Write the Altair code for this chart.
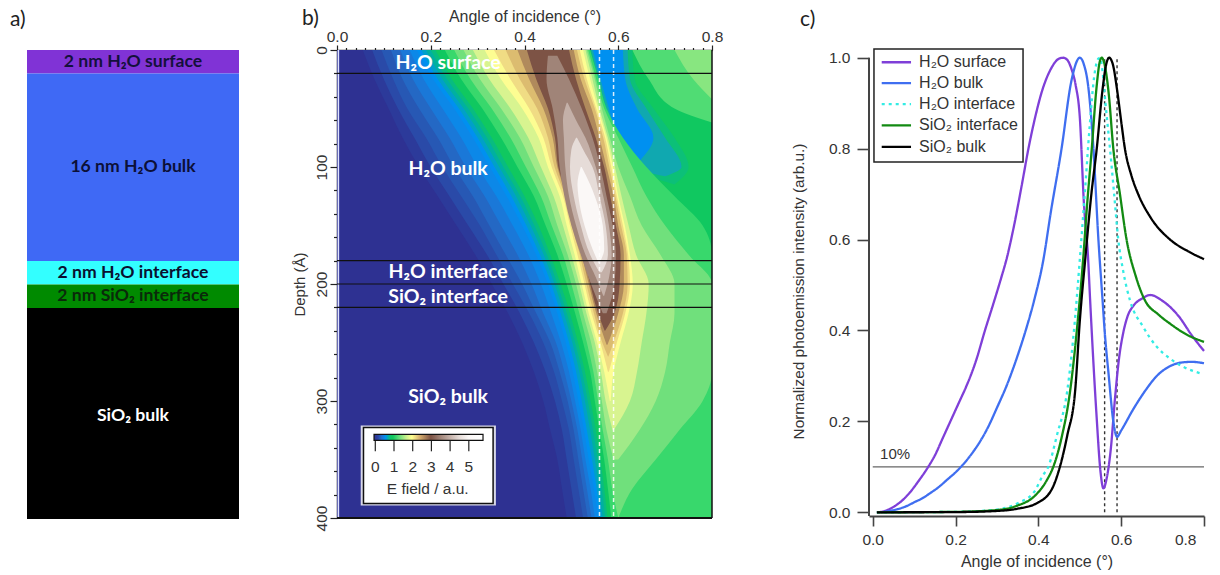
import altair as alt
import pandas as pd

# ---------- panel a
layer_top = [0, 20, 180, 200, 220]
layer_bot = [20, 180, 200, 220, 400]
layer_col = ["#8033d6", "#3f69f5", "#33ffff", "#008a00", "#000000"]
layer_txt = ["2 nm H₂O surface", "16 nm H₂O bulk", "2 nm H₂O interface", "2 nm SiO₂ interface", "SiO₂ bulk"]
layer_mid = [10, 100, 190, 210, 312]
layer_tc = ["#14103c", "#0c1038", "#0a1030", "#0a2a0a", "#ffffff"]

# ---------- panel b : iso-level contours (angle at each depth)
d = [0, 25, 50, 75, 100, 125, 150, 175, 200, 225, 250, 275, 300, 325, 350, 375, 400]
f1 = [.055, .08, .11, .14, .175, .215, .255, .295, .33, .365, .395, .42, .44, .455, .47, .48, .49]
f2 = [.075, .10, .13, .165, .20, .24, .28, .32, .355, .39, .42, .445, .465, .48, .49, .50, .51]
f3 = [.095, .12, .15, .19, .225, .265, .305, .34, .375, .41, .44, .463, .48, .495, .505, .515, .525]
f4 = [.115, .14, .175, .215, .25, .29, .325, .36, .395, .425, .455, .475, .492, .505, .515, .525, .535]
f5 = [.135, .162, .20, .24, .275, .315, .35, .385, .415, .44, .467, .485, .50, .513, .523, .533, .543]
f6 = [.155, .185, .225, .265, .30, .34, .375, .408, .435, .457, .478, .495, .508, .52, .53, .541, .55]
f7 = [.17, .205, .25, .29, .326, .362, .395, .425, .45, .47, .488, .503, .515, .527, .537, .548, .557]
f8 = [.18, .215, .26, .30, .336, .372, .404, .433, .457, .477, .495, .51, .522, .533, .544, .554, .562]
f9 = [.19, .225, .27, .31, .346, .382, .413, .441, .464, .484, .502, .517, .529, .54, .55, .559, .567]
f10 = [.20, .235, .28, .32, .355, .391, .421, .448, .47, .49, .508, .523, .535, .546, .556, .565, .572]
f11 = [.21, .245, .29, .33, .365, .40, .43, .455, .477, .497, .514, .529, .541, .552, .562, .57, .577]

top1_d = [0, 25, 50, 62]
top1_x = [.63, .665, .72, .8]
top2_d = [0, 25, 42]
top2_x = [.72, .76, .8]

dip0_d = [0, 25, 50, 75, 100, 115]
dip0_a = [.54, .556, .57, .59, .625, .72]
dip0_b = [.63, .635, .675, .72, .75, .72]
dip1_d = [0, 25, 50, 75, 100, 108]
dip1_a = [.542, .558, .575, .595, .63, .70]
dip1_b = [.62, .625, .66, .70, .735, .70]
dip2_d = [0, 25, 50, 75, 95]
dip2_a = [.546, .562, .58, .60, .64]
dip2_b = [.61, .615, .64, .675, .645]

h12_a = [.23, .265, .31, .35, .385, .42, .445, .47, .49, .508, .525, .54, .55, .56, .57, .578, .585]
h12_b = [.54, .558, .575, .61, .66, .72, .78, .8, .8, .8, .8, .8, .8, .8, .8, .8, .8]
h14_a = [.25, .285, .33, .37, .403, .435, .458, .482, .50, .517, .533, .547, .557, .567, .578, .587, .60]
h14_b = [.536, .553, .57, .60, .63, .66, .70, .75, .8, .8, .8, .8, .78, .73, .68, .63, .60]
h16_d = d[:15]
h16_a = [.27, .305, .35, .39, .42, .45, .47, .492, .51, .525, .542, .555, .565, .575, .59]
h16_b = [.533, .55, .565, .582, .60, .625, .65, .69, .72, .72, .71, .70, .68, .645, .60]
h18_d = d[:14]
h18_a = [.29, .325, .37, .408, .435, .462, .482, .50, .517, .532, .55, .563, .573, .588]
h18_b = [.53, .545, .56, .578, .593, .607, .622, .638, .665, .66, .65, .64, .625, .59]
h20_d = d[:13]
h20_a = [.315, .35, .395, .43, .45, .475, .49, .507, .522, .537, .555, .57, .582]
h20_b = [.525, .54, .557, .575, .589, .60, .614, .625, .631, .622, .605, .59, .584]
h22_d = d[:12]
h22_a = [.335, .37, .41, .44, .458, .482, .497, .513, .528, .543, .562, .578]
h22_b = [.518, .533, .553, .572, .585, .597, .61, .621, .625, .615, .597, .58]
h24_d = [0, 25, 50, 75, 100, 125, 150, 175, 200, 225, 250, 262]
h24_a = [.36, .39, .427, .45, .464, .487, .501, .518, .532, .548, .566, .578]
h24_b = [.512, .528, .55, .568, .581, .594, .606, .618, .62, .61, .59, .579]
h27_d = [0, 25, 50, 75, 100, 125, 150, 175, 200, 225, 252]
h27_a = [.385, .41, .44, .46, .47, .49, .505, .522, .537, .553, .575]
h27_b = [.505, .52, .543, .56, .575, .59, .60, .612, .612, .60, .577]
h30_d = [0, 25, 50, 75, 100, 125, 150, 175, 200, 225, 240]
h30_a = [.405, .425, .45, .465, .472, .492, .508, .527, .54, .557, .571]
h30_b = [.495, .51, .53, .552, .57, .583, .595, .605, .603, .592, .572]
h35_d = [5, 25, 50, 75, 100, 125, 150, 175, 200, 225]
h35_a = [.45, .447, .46, .47, .475, .485, .50, .52, .542, .567]
h35_b = [.47, .495, .522, .545, .562, .575, .588, .595, .592, .575]
h40_d = [45, 60, 75, 100, 125, 150, 175, 195, 210]
h40_a = [.49, .482, .484, .487, .495, .51, .53, .553, .568]
h40_b = [.492, .51, .53, .552, .568, .58, .586, .58, .57]
h45_d = [75, 85, 100, 125, 150, 175, 190]
h45_a = [.51, .50, .497, .505, .52, .54, .56]
h45_b = [.512, .525, .545, .56, .573, .578, .565]
h50_d = [100, 115, 125, 150, 170, 182]
h50_a = [.52, .513, .515, .528, .545, .558]
h50_b = [.522, .54, .55, .567, .57, .56]

hlines = [20, 180, 200, 220]
angles_marked = [0.56, 0.59]
map_txt = ["H₂O surface", "H₂O bulk", "H₂O interface", "SiO₂ interface", "SiO₂ bulk"]
map_txt_x = [.237, .237, .237, .237, .237]
map_txt_y = [10.7, 102, 190, 211.5, 297]

ramp_e = [0, .2, .4, .6, .75, .9, 1.0, 1.3, 1.7, 2.0, 2.4, 3.0, 3.5, 4.0, 4.5, 5.0, 5.76]
ramp_c = ["#2e3192", "#2c42a2", "#2070d0", "#0090f0", "#00b0a8", "#10c860", "#10c860", "#60dc78",
          "#c8f08c", "#ffff90", "#d8b070", "#7d5345", "#a08478", "#c4b0a8", "#e6dcd8", "#fbf8f7", "#ffffff"]
cb_ticks = [0, 1, 2, 3, 4, 5]

# ---------- panel c
pur_x = [.01, .03, .05, .07, .09, .11, .134, .15, .17, .19, .21, .225, .25, .271, .29, .31, .324, .34, .36, .376, .39, .41, .43, .45, .46, .47, .48, .49, .50, .51, .52, .525, .54, .55, .557, .565, .575, .585, .595, .605, .615, .63, .65, .67, .70, .74, .77, .80]
pur_y = [0, .003, .012, .025, .044, .068, .10, .125, .165, .205, .245, .275, .335, .40, .455, .515, .56, .625, .72, .80, .86, .93, .975, .998, 1.0, .995, .975, .94, .87, .68, .56, .467, .22, .09, .053, .075, .14, .25, .34, .395, .43, .455, .47, .478, .465, .43, .39, .355]
blu_x = [.02, .04, .06, .08, .10, .12, .14, .16, .18, .20, .215, .24, .26, .28, .30, .324, .35, .372, .39, .412, .43, .456, .48, .50, .51, .52, .533, .545, .555, .56, .57, .581, .59, .60, .63, .66, .686, .715, .742, .77, .80]
blu_y = [0, .003, .007, .013, .022, .031, .043, .056, .072, .088, .102, .13, .157, .19, .23, .28, .345, .408, .467, .555, .66, .80, .95, 1.0, .985, .94, .80, .60, .467, .40, .30, .20, .166, .18, .228, .27, .30, .32, .329, .331, .328]
cya_x = [.01, .20, .30, .35, .39, .41, .424, .445, .47, .488, .50, .512, .524, .535, .545, .549, .555, .562, .573, .583, .593, .605, .621, .653, .686, .718, .75, .794]
cya_y = [0, .001, .006, .02, .045, .08, .10, .17, .269, .42, .555, .70, .85, .96, .998, 1.0, .97, .90, .80, .70, .60, .53, .467, .408, .364, .338, .32, .305]
gre_x = [.01, .20, .30, .35, .39, .42, .436, .455, .477, .495, .508, .518, .529, .54, .548, .553, .56, .57, .581, .597, .613, .635, .657, .69, .718, .76, .80]
gre_y = [0, .001, .005, .015, .035, .07, .10, .16, .269, .42, .555, .68, .80, .93, .99, 1.0, .985, .92, .80, .70, .60, .52, .467, .435, .415, .39, .375]
bla_x = [.01, .20, .30, .35, .396, .432, .452, .47, .489, .50, .513, .528, .541, .555, .565, .571, .58, .59, .60, .609, .625, .641, .67, .718, .76, .80]
bla_y = [0, .0005, .003, .008, .02, .05, .10, .17, .269, .42, .555, .70, .80, .93, .99, 1.0, .985, .93, .86, .80, .74, .70, .65, .60, .575, .557]
names = ["H₂O surface", "H₂O bulk", "H₂O interface", "SiO₂ interface", "SiO₂ bulk"]
line_col = ["#7f3fd8", "#3f6ef0", "#33ece4", "#128a12", "#000000"]
line_dash = [[1, 0], [1, 0], [3, 4], [1, 0], [1, 0]]
leg_y = [.99, .944, .898, .851, .804]

SANS = "Liberation Sans"
LATO = "Lato"
INK = "#333333"


def lab(t, x, y):
    return alt.Chart(pd.DataFrame({"t": [t]})).mark_text(
        font=LATO, fontSize=21, color="#222222", align="left", baseline="middle"
    ).encode(x=alt.value(x), y=alt.value(y), text="t:N")


# ---------- a
dfa = pd.DataFrame({"t": layer_top, "b": layer_bot, "c": layer_col, "s": layer_txt, "m": layer_mid, "tc": layer_tc})
Ya = alt.Scale(domain=[0, 400], reverse=True)
pa = alt.layer(
    alt.Chart(dfa).mark_rect().encode(
        y=alt.Y("t:Q", scale=Ya, axis=None), y2="b:Q", x=alt.value(0), x2=alt.value(212),
        color=alt.Color("c:N", scale=None)),
    alt.Chart(dfa).mark_text(font=LATO, fontWeight="bold", fontSize=17.6).encode(
        x=alt.value(106), y=alt.Y("m:Q", scale=Ya, axis=None),
        text="s:N", color=alt.Color("tc:N", scale=None)),
    lab("a)", -17, -30),
).properties(width=212, height=469)

# ---------- b
is_major_x = "abs(datum.value*5-round(datum.value*5))<0.001"
is_major_y = "datum.value%100==0"
xb_axis = alt.Axis(orient="top", title="Angle of incidence (°)", values=[round(i * .02, 2) for i in range(41)],
                   labelExpr=f"{is_major_x}?format(datum.value,'.1f'):''", labelFont=SANS, labelFontSize=15.5,
                   labelColor=INK, titleFont=SANS, titleFontSize=16, titleColor=INK, titleFontWeight="normal",
                   tickColor="#222", domainColor="#222", domainWidth=1.5, tickWidth=1.2, labelPadding=1, titlePadding=5,
                   labelOverlap=False, labelFlush=False, grid=False,
                   tickSize={"condition": {"test": is_major_x, "value": 5}, "value": 2.5})
yb_axis = alt.Axis(orient="left", title="Depth (Å)", values=list(range(0, 401, 20)),
                   labelExpr=f"{is_major_y}?datum.value:''", labelFont=SANS, labelFontSize=15.5, labelAngle=270,
                   labelAlign="center", labelBaseline="bottom",
                   labelColor=INK, titleFont=SANS, titleFontSize=15, titleColor=INK, titleFontWeight="normal",
                   tickColor="#222", domainColor="#222", domainWidth=1.5, tickWidth=1.2, labelPadding=1, titlePadding=7,
                   labelOverlap=False, labelFlush=False, grid=False,
                   tickSize={"condition": {"test": is_major_y, "value": 7}, "value": 3.5})
SX = alt.Scale(domain=[0, .8], nice=False)
SY = alt.Scale(domain=[0, 400], reverse=True, nice=False)
Xb = alt.X("a:Q", scale=SX, axis=xb_axis)
Yb = alt.Y("d:Q", scale=SY, axis=yb_axis)
Yl = alt.Y("l:Q", scale=SY, axis=yb_axis)


def band(col, dd, a, b=None):
    bb = b if b is not None else [.8] * len(dd)
    df = pd.DataFrame({"d": dd, "a": a, "b": bb})
    return alt.Chart(df).mark_area(color=col, orient="horizontal", interpolate="monotone").encode(
        x=Xb, x2="b:Q", y=Yb)


layers_b = [
    band("#2e3192", [0, 400], [0, 0]),
    band("#2c3a9a", d, f1),
    band("#2a4aa8", d, f2),
    band("#2758b4", d, f3),
    band("#2468c4", d, f4),
    band("#1a78d8", d, f5),
    band("#0c88e8", d, f6),
    band("#0090f0", d, f7),
    band("#00a0c8", d, f8),
    band("#00b0a0", d, f9),
    band("#08bc80", d, f10),
    band("#10c860", d, f11),
    band("#50dc74", top1_d, top1_x),
    band("#88e680", top2_d, top2_x),
    band("#0cc078", dip0_d, dip0_a, dip0_b),
    band("#10a8b0", dip1_d, dip1_a, dip1_b),
    band("#0090f0", dip2_d, dip2_a, dip2_b),
    band("#38d86c", d, h12_a, h12_b),
    band("#70e07c", d, h14_a, h14_b),
    band("#a0ea88", h16_d, h16_a, h16_b),
    band("#d8f490", h18_d, h18_a, h18_b),
    band("#fdfd92", h20_d, h20_a, h20_b),
    band("#f0dc84", h22_d, h22_a, h22_b),
    band("#dcbc70", h24_d, h24_a, h24_b),
    band("#b08a5c", h27_d, h27_a, h27_b),
    band("#7d5345", h30_d, h30_a, h30_b),
    band("#a08478", h35_d, h35_a, h35_b),
    band("#c4b0a8", h40_d, h40_a, h40_b),
    band("#e6dcd8", h45_d, h45_a, h45_b),
    band("#fbf8f7", h50_d, h50_a, h50_b),
]
edge = alt.Chart(pd.DataFrame({"a": [.003], "d": [0], "e": [400]})).mark_rule(color="#dfe3ff", strokeWidth=1.5).encode(
    x=Xb, y=Yb, y2="e:Q")
dash = alt.Chart(pd.DataFrame({"a": angles_marked, "d": [0, 0], "e": [400, 400]})).mark_rule(
    color="#ffffff", strokeDash=[4, 3], strokeWidth=1.5, opacity=.85).encode(x=Xb, y=Yb, y2="e:Q")
hl = alt.Chart(pd.DataFrame({"d": hlines, "a": [0] * 4, "b": [.8] * 4})).mark_rule(color="#101010", strokeWidth=1.2).encode(
    y=Yb, x=Xb, x2="b:Q")
fb = alt.Chart(pd.DataFrame({"d": [400], "a": [0], "b": [.8]})).mark_rule(color="#111", strokeWidth=2).encode(
    y=Yb, x=Xb, x2="b:Q")
fr = alt.Chart(pd.DataFrame({"a": [.8], "d": [0], "e": [400]})).mark_rule(color="#111", strokeWidth=1.5).encode(
    x=Xb, y=Yb, y2="e:Q")
mt = alt.Chart(pd.DataFrame({"a": map_txt_x, "d": map_txt_y, "s": map_txt})).mark_text(
    font=LATO, fontWeight="bold", fontSize=19.5, color="#ffffff").encode(x=Xb, y=Yb, text="s:N")


def box(a1, a2, d1, d2, **kw):
    return alt.Chart(pd.DataFrame({"a": [a1], "b": [a2], "d": [d1], "e": [d2]})).mark_rect(**kw).encode(
        x=Xb, x2="b:Q", y=Yb, y2="e:Q")


CB0, CBU = .0817, .0399
grad = alt.Gradient(gradient="linear", x1=0, x2=1, y1=0, y2=0,
                    stops=[alt.GradientStop(color=c, offset=e / ramp_e[-1]) for e, c in zip(ramp_e, ramp_c)])
cb_df = pd.DataFrame({"a": [CB0 + CBU * e for e in cb_ticks], "d": [334] * 6, "e": [343] * 6,
                      "t": [str(e) for e in cb_ticks], "l": [356.6] * 6})
cb_parts = [
    box(.0506, .339, 321, 389.3, color="#d8d8e8"),
    box(.0565, .333, 322.7, 387.6, fill="#ffffff", stroke="#111111", strokeWidth=1.5),
    box(.079, .3115, 328.6, 333.7, color=grad, stroke="#111111", strokeWidth=1.2),
    alt.Chart(cb_df).mark_rule(color="#222", strokeWidth=1.2).encode(x=Xb, y=Yb, y2="e:Q"),
    alt.Chart(cb_df).mark_text(font=SANS, fontSize=15.5, color=INK).encode(x=Xb, y=Yl, text="t:N"),
    alt.Chart(pd.DataFrame({"a": [.1935], "d": [374.8], "s": ["E field / a.u."]})).mark_text(
        font=SANS, fontSize=15.5, color=INK).encode(x=Xb, y=Yb, text="s:N"),
]
pb = alt.layer(*layers_b, edge, dash, hl, fb, fr, mt, *cb_parts, lab("b)", -35, -31)).properties(width=375, height=468)

# ---------- c
GAP = 59
rows = []
for n, xs, ys in zip(names, [pur_x, blu_x, cya_x, gre_x, bla_x], [pur_y, blu_y, cya_y, gre_y, bla_y]):
    rows += [{"n": n, "x": x, "y": y, "i": i} for i, (x, y) in enumerate(zip(xs, ys))]
dfc = pd.DataFrame(rows)
SXC = alt.Scale(domain=[-.009, .8], range=[GAP, GAP + 335], nice=False)
SYC = alt.Scale(domain=[-.0081, 1.017], nice=False)
xc_axis = alt.Axis(title="Angle of incidence (°)", values=[0, .2, .4, .6, .8], format=".1f", labelFont=SANS, labelFontSize=15.5,
                   labelColor=INK, titleFont=SANS, titleFontSize=16, titleColor=INK, titleFontWeight="normal",
                   tickColor="#444", domainColor="#444", domainWidth=2, tickWidth=1.6, tickSize=10, labelPadding=6,
                   titlePadding=6, grid=False, labelFlush=True, labelFlushOffset=-8)
yc_axis = alt.Axis(title="Normalized photoemission intensity (arb.u.)", values=[0, .2, .4, .6, .8, 1.0], format=".1f",
                   labelFont=SANS, labelFontSize=15.5, labelColor=INK, titleFont=SANS, titleFontSize=15.4, titleColor=INK,
                   titleFontWeight="normal", tickColor="#444", domain=False, tickWidth=1.6, tickSize=12, offset=-GAP,
                   labelPadding=7, titlePadding=22, titleY=241, grid=False)
Xc = alt.X("x:Q", scale=SXC, axis=xc_axis)
Yc = alt.Y("y:Q", scale=SYC, axis=yc_axis)
yline = alt.Chart(pd.DataFrame({"x": [-.009], "y": [-.0081], "e": [1.0]})).mark_rule(color="#444", strokeWidth=2).encode(
    x=Xc, y=Yc, y2="e:Q")
vdash = alt.Chart(pd.DataFrame({"x": angles_marked, "y": [0, 0], "e": [1.0, 1.0]})).mark_rule(
    color="#333", strokeDash=[3, 3], strokeWidth=1.4).encode(x=Xc, y=Yc, y2="e:Q")
ten = alt.Chart(pd.DataFrame({"x": [0], "b": [.8], "y": [.1]})).mark_rule(color="#666", strokeWidth=1.4).encode(
    x=Xc, x2="b:Q", y=Yc)
ten_t = alt.Chart(pd.DataFrame({"x": [.054], "y": [.128], "s": ["10%"]})).mark_text(
    font=SANS, fontSize=15, color=INK).encode(x=Xc, y=Yc, text="s:N")
Col = alt.Color("n:N", sort=names, scale=alt.Scale(domain=names, range=line_col), legend=None)
Dsh = alt.StrokeDash("n:N", sort=names, scale=alt.Scale(domain=names, range=line_dash), legend=None)
lines = alt.Chart(dfc).mark_line(strokeWidth=2.3, interpolate="monotone").encode(
    x=Xc, y=Yc, order="i:Q", color=Col, strokeDash=Dsh)
leg_box = alt.Chart(pd.DataFrame({"x": [.003], "b": [.363], "y": [1.019], "e": [.7706]})).mark_rect(
    fill="#ffffff", stroke="#222222", strokeWidth=1.5).encode(x=Xc, x2="b:Q", y=Yc, y2="e:Q")
leg_df = pd.DataFrame({"n": names, "y": leg_y, "x": [.0217] * 5, "b": [.0925] * 5, "t": [.112] * 5})
leg_l = alt.Chart(leg_df).mark_rule(strokeWidth=2.3).encode(x=Xc, x2="b:Q", y=Yc, color=Col, strokeDash=Dsh)
leg_t = alt.Chart(leg_df).mark_text(font=SANS, fontSize=16, color=INK, align="left").encode(
    x=alt.X("t:Q", scale=SXC, axis=xc_axis), y=Yc, text="n:N")
pc = alt.layer(yline, vdash, ten, ten_t, lines, leg_box, leg_l, leg_t, lab("c)", GAP - 69, -30)).properties(
    width=GAP + 335, height=466)

chart = alt.hconcat(pa, pb, pc, spacing=98, bounds="flush").properties(
    padding={"left": 2, "top": 0, "right": 0, "bottom": 0}
).resolve_scale(color="independent").configure_view(strokeWidth=0)

chart.save("out.html", embed_options={"renderer": "svg", "actions": False})
